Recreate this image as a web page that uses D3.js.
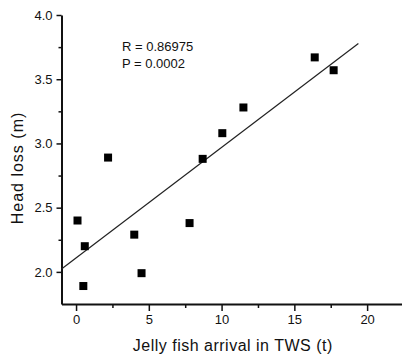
<!DOCTYPE html>
<html>
<head>
<meta charset="utf-8">
<script src="https://cdn.jsdelivr.net/npm/d3@7"></script>
<style>
  body { margin: 0; background: #fff; }
  svg { font-family: "Liberation Sans", Arial, sans-serif; }
</style>
</head>
<body>
<div id="chart"></div>
<script>
// data
const arrival = [0.1, 0.5, 0.6, 2.2, 4.0, 4.5, 7.8, 8.7, 10.05, 11.5, 16.4, 17.7]
const headLoss = [2.4, 1.89, 2.2, 2.89, 2.29, 1.99, 2.38, 2.88, 3.08, 3.28, 3.67, 3.57]
const xTicks = [0, 5, 10, 15, 20]
const xMinor = [2.5, 7.5, 12.5, 17.5, 22.5]
const yTicks = [2.0, 2.5, 3.0, 3.5, 4.0]
const yMinor = [2.25, 2.75, 3.25, 3.75]
const fitIntercept = 2.109
const fitSlope = 0.086
const fitRange = [-1, 19.4]
const statLines = ["R = 0.86975", "P = 0.0002"]

let cfg = {
  w: 402,
  h: 361,
  left: 61.5,
  right: 403.5,
  top: 15,
  bottom: 304
}

let svg = d3.select("#chart")
  .append("svg")
  .attr("width", cfg.w)
  .attr("height", cfg.h)

let x = d3.scaleLinear().domain([-1, 22.5]).range([cfg.left, cfg.right])
let y = d3.scaleLinear().domain([1.75, 4.0]).range([cfg.bottom, cfg.top])

// x axis
let xAxis = svg.append("g")
  .attr("transform", "translate(0," + cfg.bottom + ")")
  .call(d3.axisBottom(x).tickValues(xTicks).tickSize(7).tickSizeOuter(0).tickPadding(4).tickFormat(d3.format("d")))
xAxis.append("g")
  .call(d3.axisBottom(x).tickValues(xMinor).tickSize(4).tickFormat(""))
  .select(".domain").remove()

// y axis
let yAxis = svg.append("g")
  .attr("transform", "translate(" + cfg.left + ",0)")
  .call(d3.axisLeft(y).tickValues(yTicks).tickSize(5).tickSizeOuter(0).tickPadding(4).tickFormat(d3.format(".1f")))
yAxis.append("g")
  .call(d3.axisLeft(y).tickValues(yMinor).tickSize(3).tickFormat(""))
  .select(".domain").remove()

svg.selectAll(".domain").style("stroke", "#111").style("stroke-width", "2px")
svg.selectAll(".tick line").style("stroke", "#111").style("stroke-width", "1.5px")
svg.selectAll(".tick text")
  .style("font-size", "13px")
  .style("fill", "#111")
  .style("font-family", "'Liberation Sans', Arial, sans-serif")

// regression line
svg.append("line")
  .attr("x1", x(fitRange[0]))
  .attr("y1", y(fitIntercept + fitSlope * fitRange[0]))
  .attr("x2", x(fitRange[1]))
  .attr("y2", y(fitIntercept + fitSlope * fitRange[1]))
  .style("stroke", "#222")
  .style("stroke-width", "1.2px")

// square markers
let pts = arrival.map((a, i) => ({ x: a, y: headLoss[i] }))
let sz = 8
svg.selectAll(".pt")
  .data(pts)
  .enter()
  .append("rect")
  .attr("class", "pt")
  .attr("x", d => x(d.x) - sz / 2)
  .attr("y", d => y(d.y) - sz / 2)
  .attr("width", sz)
  .attr("height", sz)
  .style("fill", "#000")

// stats text
svg.selectAll(".stat")
  .data(statLines)
  .enter()
  .append("text")
  .attr("class", "stat")
  .attr("x", 122)
  .attr("y", (d, i) => 51 + i * 17)
  .style("font-size", "13px")
  .style("fill", "#111")
  .text(d => d)

// axis titles
svg.append("text")
  .attr("x", (cfg.left + 402) / 2 + 1)
  .attr("y", 351)
  .attr("text-anchor", "middle")
  .style("font-size", "16px")
  .style("letter-spacing", "0.5px")
  .style("fill", "#111")
  .text("Jelly fish arrival in TWS (t)")

svg.append("text")
  .attr("transform", "translate(23,168) rotate(-90)")
  .attr("text-anchor", "middle")
  .style("font-size", "16px")
  .style("letter-spacing", "1px")
  .style("fill", "#111")
  .text("Head loss (m)")
</script>
</body>
</html>
